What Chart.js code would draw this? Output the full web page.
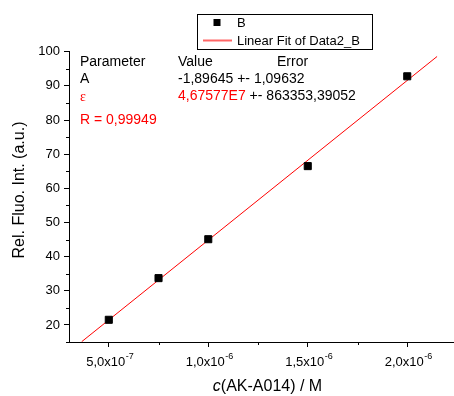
<!DOCTYPE html>
<html>
<head>
<meta charset="utf-8">
<script src="https://cdn.jsdelivr.net/npm/chart.js@4"></script>
<style>
  html, body { margin: 0; padding: 0; background: #fff; }
  canvas { display: block; }
</style>
</head>
<body>
<canvas id="fitChart" width="454" height="396"></canvas>
<script>
// measured points
var concentration = [5.0e-7, 7.5e-7, 1.0e-6, 1.5e-6, 2.0e-6];
var intensity = [21.5, 33.7, 45.1, 66.5, 92.8];

// ends of the linear fit line
var fitX = [3.64e-7, 2.15e-6];
var fitY = [15.1, 98.6];

var xTicks = [5.0e-7, 1.0e-6, 1.5e-6, 2.0e-6];
var xTickBase = ['5,0x10', '1,0x10', '1,5x10', '2,0x10'];
var xTickExp = ['-7', '-6', '-6', '-6'];
var xMinor = [7.5e-7, 1.25e-6, 1.75e-6];
var yTicks = [20, 30, 40, 50, 60, 70, 80, 90, 100];
var yMinor = [15, 25, 35, 45, 55, 65, 75, 85, 95];

var FONT = '"Liberation Sans", Arial, sans-serif';

var extras = {
    id: 'extras',
    afterDraw: function(chart) {
        var ctx = chart.ctx;
        var xs = chart.scales.x, ys = chart.scales.y;
        var area = chart.chartArea;
        ctx.save();

        // minor ticks
        ctx.strokeStyle = '#000';
        ctx.lineWidth = 1;
        ctx.beginPath();
        yMinor.forEach(function(v) {
            var py = Math.round(ys.getPixelForValue(v)) + 0.5;
            ctx.moveTo(area.left - 3, py);
            ctx.lineTo(area.left, py);
        });
        xMinor.forEach(function(v) {
            var px = Math.round(xs.getPixelForValue(v)) + 0.5;
            ctx.moveTo(px, area.bottom);
            ctx.lineTo(px, area.bottom + 3);
        });
        ctx.stroke();

        // x tick labels with superscript exponent
        ctx.fillStyle = '#000';
        ctx.textAlign = 'left';
        ctx.textBaseline = 'alphabetic';
        xTicks.forEach(function(v, i) {
            ctx.font = '13px ' + FONT;
            var wb = ctx.measureText(xTickBase[i]).width;
            ctx.font = '9px ' + FONT;
            var we = ctx.measureText(xTickExp[i]).width;
            var px = xs.getPixelForValue(v);
            var sx = px - (wb + we) / 2 + 1;
            ctx.font = '13px ' + FONT;
            ctx.fillText(xTickBase[i], sx, area.bottom + 24);
            ctx.font = '9px ' + FONT;
            ctx.fillText(xTickExp[i], sx + wb + 0.5, area.bottom + 17);
        });

        // axis titles
        ctx.textBaseline = 'middle';
        ctx.font = 'italic 16px ' + FONT;
        var t1 = 'c';
        var w1 = ctx.measureText(t1).width;
        var t2 = '(AK-A014) / M';
        ctx.font = '16px ' + FONT;
        var w2 = ctx.measureText(t2).width;
        var sx = 267.5 - (w1 + w2) / 2;
        ctx.font = 'italic 16px ' + FONT;
        ctx.fillText(t1, sx, 387);
        ctx.font = '16px ' + FONT;
        ctx.fillText(t2, sx + w1, 387);

        ctx.save();
        ctx.translate(20, 190);
        ctx.rotate(-Math.PI / 2);
        ctx.textAlign = 'center';
        ctx.fillText('Rel. Fluo. Int. (a.u.)', 0, 0);
        ctx.restore();

        // fit parameters
        ctx.textAlign = 'left';
        ctx.font = '14px ' + FONT;
        ctx.fillStyle = '#000';
        ctx.fillText('Parameter', 80, 62);
        ctx.fillText('Value', 178, 62);
        ctx.fillText('Error', 277, 62);
        ctx.fillText('A', 80, 79);
        ctx.fillText('-1,89645 +- 1,09632', 178, 79);
        ctx.fillStyle = '#ff0000';
        ctx.fillText('4,67577E7', 178, 96.5);
        var wv = ctx.measureText('4,67577E7').width;
        ctx.fillStyle = '#000';
        ctx.fillText(' +- 863353,39052', 178 + wv, 96.5);
        ctx.fillStyle = '#ff0000';
        ctx.font = '14px "Liberation Serif", serif';
        ctx.fillText('\u03B5', 80, 97);
        ctx.font = '14px ' + FONT;
        ctx.fillText('R = 0,99949', 80, 120);

        // legend box
        ctx.strokeStyle = '#000';
        ctx.lineWidth = 1;
        ctx.strokeRect(197.5, 14.5, 175, 35);
        ctx.fillStyle = '#000';
        ctx.fillRect(213.5, 19, 7, 7);
        ctx.font = '13px ' + FONT;
        ctx.fillText('B', 237, 23);
        ctx.strokeStyle = 'rgba(255,0,0,0.6)';
        ctx.lineWidth = 2;
        ctx.beginPath();
        ctx.moveTo(203, 40.5);
        ctx.lineTo(232, 40.5);
        ctx.stroke();
        ctx.fillText('Linear Fit of Data2_B', 237, 41);

        ctx.restore();
    }
};

new Chart(document.getElementById('fitChart').getContext('2d'), {
    type: 'scatter',
    data: {
        datasets: [{
            label: 'Linear Fit of Data2_B',
            type: 'line',
            data: fitX.map(function(x, i) { return { x: x, y: fitY[i] }; }),
            borderColor: '#ff0000',
            borderWidth: 1,
            pointRadius: 0,
            fill: false,
            order: 2
        }, {
            label: 'B',
            data: concentration.map(function(x, i) { return { x: x, y: intensity[i] }; }),
            pointStyle: 'rect',
            pointRadius: 5,
            pointBorderWidth: 1,
            backgroundColor: '#000',
            borderColor: '#000',
            order: 1
        }]
    },
    options: {
        responsive: false,
        animation: false,
        layout: { autoPadding: false, padding: { top: 51.7, left: 0, right: 0, bottom: 0 } },
        plugins: { legend: { display: false }, tooltip: { enabled: false } },
        scales: {
            x: {
                type: 'linear',
                min: 3.0e-7,
                max: 2.235e-6,
                afterBuildTicks: function(scale) {
                    scale.ticks = xTicks.map(function(v) { return { value: v }; });
                },
                afterFit: function(scale) {
                    scale.height = 54;
                    scale.paddingLeft = 0;
                    scale.paddingRight = 0;
                },
                ticks: { display: false },
                grid: { drawOnChartArea: false, color: '#000', tickLength: 5 },
                border: { display: true, color: '#000', width: 1 }
            },
            y: {
                type: 'linear',
                min: 15,
                max: 100,
                afterBuildTicks: function(scale) {
                    scale.ticks = yTicks.map(function(v) { return { value: v }; });
                },
                afterFit: function(scale) {
                    scale.width = 69;
                    scale.paddingTop = 0;
                    scale.paddingBottom = 0;
                },
                ticks: {
                    color: '#000',
                    font: { family: FONT, size: 13 },
                    padding: 4
                },
                grid: { drawOnChartArea: false, color: '#000', tickLength: 5 },
                border: { display: true, color: '#000', width: 1 }
            }
        }
    },
    plugins: [extras]
});
</script>
</body>
</html>
